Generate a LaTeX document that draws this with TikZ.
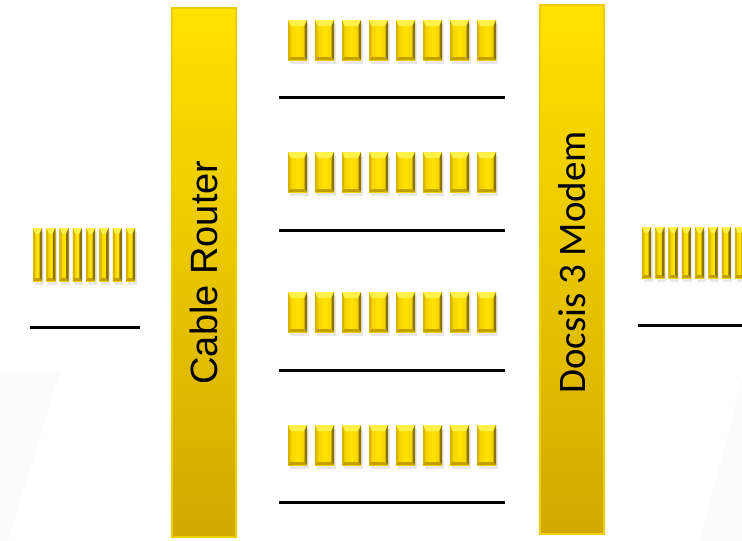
\documentclass[tikz,border=0pt]{standalone}
\usepackage{fontspec}
\setmainfont{Carlito}
\newfontfamily\arialfont{Liberation Sans}
\usetikzlibrary{shadows}
\definecolor{goldTop}{HTML}{FFE200}
\definecolor{goldBot}{HTML}{D2A900}
\definecolor{goldEdge}{HTML}{F0CC00}
\definecolor{blkMid}{HTML}{FFE400}
\definecolor{blkBody}{HTML}{F2CF00}
\definecolor{blkSide}{HTML}{D8B400}
\definecolor{blkDark}{HTML}{8A7300}
\definecolor{blkLight}{HTML}{FFF04A}
\pgfdeclarehorizontalshading{blkshade}{100bp}{
  color(0bp)=(blkSide); color(30bp)=(blkBody); color(50bp)=(blkMid);
  color(70bp)=(blkBody); color(100bp)=(blkSide)}
\tikzset{
  bar/.style={draw=goldEdge, line width=1.5pt, top color=goldTop, bottom color=goldBot,
    anchor=north west, minimum width=64pt, minimum height=529pt, inner sep=0pt, outer sep=0pt},
  blk/.style={anchor=north west, inner sep=0pt, outer sep=0pt,
    shading=blkshade,
    drop shadow={opacity=0.18, shadow xshift=1.5pt, shadow yshift=-4pt},
    path picture={
      \fill[blkLight] (path picture bounding box.north west) -- (path picture bounding box.north east)
        -- ([xshift=-3pt,yshift=-6pt]path picture bounding box.north east)
        -- ([xshift=3pt,yshift=-6pt]path picture bounding box.north west) -- cycle;
      \fill[blkSide] (path picture bounding box.north west) -- (path picture bounding box.south west)
        -- ([xshift=2pt,yshift=3pt]path picture bounding box.south west)
        -- ([xshift=2pt,yshift=-6pt]path picture bounding box.north west) -- cycle;
      \fill[blkDark] (path picture bounding box.north east) -- (path picture bounding box.south east)
        -- ([xshift=-2.5pt,yshift=3pt]path picture bounding box.south east)
        -- ([xshift=-2.5pt,yshift=-6pt]path picture bounding box.north east) -- cycle;
      \fill[blkSide!70!blkDark] (path picture bounding box.south west) -- (path picture bounding box.south east)
        -- ([xshift=-2.5pt,yshift=3pt]path picture bounding box.south east)
        -- ([xshift=2pt,yshift=3pt]path picture bounding box.south west) -- cycle;
    }},
  bigblk/.style={blk, minimum width=19pt, minimum height=40pt},
  thinblk/.style={blk, minimum width=9pt, minimum height=53pt},
  rule/.style={line width=3pt, black}
}
\begin{document}
\begin{tikzpicture}[x=1pt, y=-1pt]
  \useasboundingbox (0,0) rectangle (742,541);
  % faint background wedges
  \fill[black!1.5] (0,372) -- (60,372) -- (8,541) -- (0,541) -- cycle;
  \fill[black!1.5] (742,380) -- (742,541) -- (700,541) -- cycle;

  % router and modem bars
  \node[bar, font=\arialfont\fontsize{38}{42}\selectfont] (router) at (172,8)
    {\rotatebox{90}{Cable Router}};
  \node[bar, font=\fontsize{39}{43}\selectfont] (modem) at (540,5)
    {\rotatebox{90}{\hspace{14pt}Docsis 3 Modem}};

  % four channel groups between the bars
  \foreach \g/\top/\ly in {1/20/97, 2/152/230, 3/292/370, 4/425/502} {
    \foreach \i in {0,...,7} {
      \node[bigblk] (c\g-\i) at ({288+27*\i},\top) {};
    }
    \draw[rule] (279,\ly) -- (505,\ly);
  }

  % input stream on the left
  \foreach \i in {0,...,7} {
    \node[thinblk] (in\i) at ({33+13.3*\i},228) {};
  }
  \draw[rule] (30,327) -- (140,327);

  % output stream on the right
  \foreach \i in {0,...,7} {
    \node[thinblk, minimum height=51pt] (out\i) at ({642+13.3*\i},227) {};
  }
  \draw[rule] (638,325) -- (742,325);
\end{tikzpicture}
\end{document}
